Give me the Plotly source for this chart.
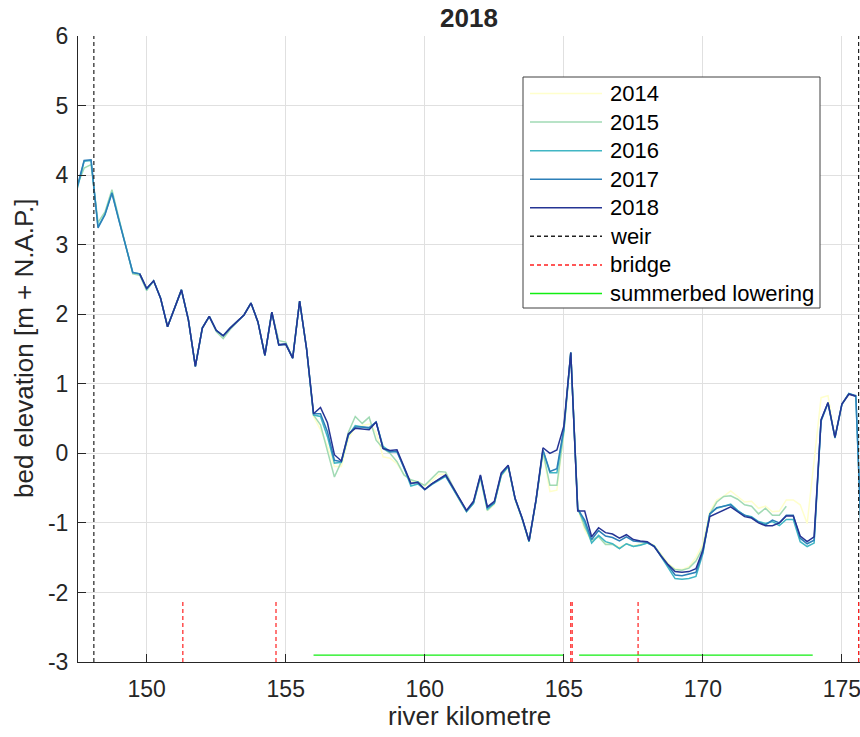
import plotly.graph_objects as go

# River stations every 0.25 km
km = [147.5 + 0.25 * i for i in range(114)]

# Bed elevation per survey year [m + N.A.P.]; None where not surveyed
bed_2014 = [None] * 9 + [
    2.58, 2.37, 2.48, 2.23, 1.82, 2.08, 2.35, 1.92, 1.25, 1.80, 1.97, 1.77, 1.69, 1.80, 1.89, 1.99,
    2.16, 1.89, 1.41, 2.03, 1.56, 1.57, 1.37, 2.19, 1.50,
    0.53, 0.34, 0.10, -0.19, -0.19, 0.20, 0.38, 0.40, 0.42, 0.30, -0.05, -0.07, -0.15, -0.30, -0.40, -0.40,
    -0.47, -0.40, -0.30, -0.30, -0.49, -0.68, -0.84, -0.72, -0.35, -0.82, -0.74, -0.33, -0.20, -0.67, -0.95, -1.27,
    -0.69, 0.00, -0.55, -0.53, 0.28, 1.45, -0.80, -1.10, -1.27, -1.20, -1.30, -1.30, -1.35, -1.30, -1.33, -1.31,
    -1.28, -1.32, -1.45, -1.58, -1.66, -1.67, -1.63, -1.50, -1.30, -0.84, -0.67, -0.62, -0.54, -0.62, -0.70, -0.69,
    -0.79, -0.76, -0.84, -0.83, -0.67, -0.67, -0.74, -1.01, -0.10, 0.80, 0.83, 0.23, 0.71, 0.85, 0.82, None]

bed_2015 = [
    3.85, 4.10, 4.15, 3.32, 3.47, 3.79, 3.38, 2.99, 2.58,
    2.56, 2.34, 2.48, 2.23, 1.82, 2.08, 2.35, 1.92, 1.25, 1.80, 1.97, 1.75, 1.65, 1.78, 1.89, 1.99,
    2.16, 1.89, 1.41, 2.03, 1.62, 1.60, 1.37, 2.19, 1.50,
    0.55, 0.41, 0.05, -0.34, -0.12, 0.30, 0.53, 0.43, 0.52, 0.19, 0.07, 0.00, -0.12, -0.31, -0.38, -0.41,
    -0.46, -0.36, -0.26, -0.27, -0.47, -0.66, -0.83, -0.72, -0.35, -0.82, -0.72, -0.32, -0.19, -0.66, -0.94, -1.27,
    -0.68, 0.02, -0.46, -0.46, 0.30, 1.45, -0.78, -1.06, -1.25, -1.20, -1.31, -1.31, -1.37, -1.30, -1.34, -1.32,
    -1.29, -1.33, -1.46, -1.60, -1.67, -1.68, -1.65, -1.55, -1.36, -0.87, -0.70, -0.62, -0.61, -0.66, -0.74, -0.76,
    -0.87, -0.79, -0.89, -0.89, -0.76, None, None, None, None, None, None, None, None, None, None, None]

bed_2016 = [
    3.80, 4.20, 4.21, 3.26, 3.44, 3.75, 3.36, 2.98, 2.60,
    2.58, 2.36, 2.48, 2.23, 1.82, 2.08, 2.35, 1.92, 1.25, 1.80, 1.97, 1.77, 1.69, 1.80, 1.89, 1.99,
    2.16, 1.89, 1.41, 2.03, 1.56, 1.57, 1.37, 2.19, 1.50,
    0.55, 0.53, 0.24, -0.14, -0.13, 0.26, 0.40, 0.38, 0.36, 0.45, 0.10, 0.03, 0.02, -0.20, -0.47, -0.44,
    -0.52, -0.45, -0.39, -0.33, -0.50, -0.68, -0.84, -0.72, -0.33, -0.80, -0.72, -0.31, -0.19, -0.66, -0.94, -1.27,
    -0.68, 0.04, -0.28, -0.28, 0.33, 1.45, -0.80, -1.00, -1.29, -1.18, -1.27, -1.30, -1.37, -1.30, -1.34, -1.32,
    -1.29, -1.33, -1.49, -1.64, -1.80, -1.81, -1.80, -1.77, -1.44, -0.87, -0.79, -0.76, -0.73, -0.82, -0.89, -0.91,
    -0.98, -1.01, -0.98, -1.04, -0.95, -0.95, -1.27, -1.34, -1.29, 0.46, 0.72, 0.22, 0.70, 0.86, 0.82, -1.75]

bed_2017 = [
    3.83, 4.21, 4.22, 3.24, 3.43, 3.74, 3.35, 2.97, 2.60,
    2.58, 2.37, 2.48, 2.23, 1.82, 2.08, 2.35, 1.92, 1.25, 1.80, 1.97, 1.77, 1.69, 1.80, 1.89, 1.99,
    2.16, 1.89, 1.41, 2.03, 1.56, 1.57, 1.37, 2.19, 1.50,
    0.57, 0.57, 0.31, -0.10, -0.12, 0.26, 0.38, 0.38, 0.37, 0.45, 0.07, 0.02, 0.03, -0.21, -0.44, -0.41,
    -0.52, -0.44, -0.38, -0.32, -0.49, -0.67, -0.83, -0.71, -0.32, -0.78, -0.71, -0.30, -0.18, -0.65, -0.93, -1.26,
    -0.67, 0.05, -0.26, -0.22, 0.35, 1.45, -0.80, -0.96, -1.24, -1.11, -1.19, -1.21, -1.26, -1.20, -1.26, -1.27,
    -1.28, -1.34, -1.48, -1.62, -1.75, -1.76, -1.73, -1.71, -1.42, -0.87, -0.78, -0.76, -0.74, -0.83, -0.89, -0.92,
    -0.99, -1.03, -0.96, -1.00, -0.89, -0.89, -1.22, -1.30, -1.25, 0.48, 0.73, 0.23, 0.71, 0.86, 0.83, -1.75]

bed_2018 = [None] * 9 + [
    2.58, 2.37, 2.48, 2.23, 1.82, 2.08, 2.35, 1.92, 1.25, 1.80, 1.97, 1.77, 1.69, 1.80, 1.89, 1.99,
    2.16, 1.89, 1.41, 2.03, 1.56, 1.57, 1.37, 2.19, 1.50,
    0.57, 0.66, 0.44, -0.02, -0.11, 0.28, 0.36, 0.35, 0.34, 0.45, 0.07, 0.04, 0.05, -0.19, -0.43, -0.42,
    -0.52, -0.44, -0.37, -0.31, -0.48, -0.66, -0.82, -0.69, -0.31, -0.77, -0.69, -0.28, -0.17, -0.65, -0.93, -1.26,
    -0.67, 0.08, 0.00, 0.05, 0.39, 1.45, -0.83, -0.83, -1.20, -1.07, -1.14, -1.16, -1.22, -1.17, -1.24, -1.26,
    -1.27, -1.34, -1.48, -1.60, -1.70, -1.71, -1.70, -1.66, -1.39, -0.91, -0.86, -0.82, -0.77, -0.84, -0.91, -0.93,
    -1.00, -1.04, -1.04, -1.00, -0.90, -0.90, -1.19, -1.27, -1.20, 0.48, 0.73, 0.23, 0.71, 0.85, 0.82, None]

years = ["2014", "2015", "2016", "2017", "2018"]
series = [bed_2014, bed_2015, bed_2016, bed_2017, bed_2018]
year_colors = ["#ffffcc", "#a1dab4", "#41b6c4", "#2c7fb8", "#253494"]

# Structures along the river (km)
weir_km = [148.1, 175.6]
bridge_km = [151.3, 154.65, 165.25, 165.3, 167.67, 175.6]
bridge_top = -2.1
summerbed_segments = [(156.0, 165.0), (165.55, 173.95)]
summerbed_level = -2.9

x_range = [147.53, 175.65]
y_range = [-3, 6]
x_ticks = [150, 155, 160, 165, 170, 175]
y_ticks = [-3, -2, -1, 0, 1, 2, 3, 4, 5, 6]
y_ticklabels = ["-3", "-2", "-1", "0", "1", "2", "3", "4", "5", "6"]

FONT = "Arial"
INK = "#262626"
WEIR_COLOR = "#222222"
BRIDGE_COLOR = "#ff2020"
SUMMERBED_COLOR = "#11ee11"
DASH = "4px,3px"

# Figure and plot-area geometry in pixels
W, H = 860, 737
M_L, M_R, M_T, M_B = 78, 0, 36, 75
PW, PH = W - M_L - M_R, H - M_T - M_B


def px_x(px):
    return (px - M_L) / PW


def px_y(py):
    return (H - M_B - py) / PH


fig = go.Figure()

for name, vals, col in zip(years, series, year_colors):
    fig.add_trace(go.Scatter(x=km, y=vals, mode="lines", name=name, showlegend=False,
                             line=dict(color=col, width=1.5), connectgaps=False))

wx, wy = [], []
for k in weir_km:
    wx += [k, k, None]
    wy += [y_range[0], y_range[1], None]
fig.add_trace(go.Scatter(x=wx, y=wy, mode="lines", name="weir", showlegend=False,
                         line=dict(color=WEIR_COLOR, width=1.2, dash=DASH)))

bx, by = [], []
for k in bridge_km:
    bx += [k, k, None]
    by += [y_range[0], bridge_top, None]
fig.add_trace(go.Scatter(x=bx, y=by, mode="lines", name="bridge", showlegend=False,
                         line=dict(color=BRIDGE_COLOR, width=1.2, dash=DASH)))

sx, sy = [], []
for a, b in summerbed_segments:
    sx += [a, b, None]
    sy += [summerbed_level, summerbed_level, None]
fig.add_trace(go.Scatter(x=sx, y=sy, mode="lines", name="summerbed lowering", showlegend=False,
                         line=dict(color=SUMMERBED_COLOR, width=1.2)))

# Legend box drawn as shapes + text
legend_items = [(y, c, None) for y, c in zip(years, year_colors)] + [
    ("weir", WEIR_COLOR, "dash"),
    ("bridge", BRIDGE_COLOR, "dash"),
    ("summerbed lowering", SUMMERBED_COLOR, None),
]
box_l, box_r, box_t, box_b = 523, 820, 77, 308
row0, row_step = 93.5, 28.57
line_l, line_r, text_l = 530, 602, 608

shapes = [dict(type="rect", xref="paper", yref="paper",
               x0=px_x(box_l), x1=px_x(box_r), y0=px_y(box_b), y1=px_y(box_t),
               line=dict(color="#404040", width=1), fillcolor="white", layer="above")]
annotations = []
for i, (label, col, dash) in enumerate(legend_items):
    yy = row0 + i * row_step
    shapes.append(dict(type="line", xref="paper", yref="paper",
                       x0=px_x(line_l), x1=px_x(line_r), y0=px_y(yy), y1=px_y(yy),
                       line=dict(color=col, width=1.5, dash=DASH if dash else "solid"),
                       layer="above"))
    annotations.append(dict(text=label, xref="paper", yref="paper",
                            x=px_x(text_l), y=px_y(yy), xanchor="left", yanchor="middle",
                            showarrow=False, font=dict(family=FONT, size=22, color="#000000")))

annotations += [
    dict(text="bed elevation [m + N.A.P.]", textangle=-90, xref="paper", yref="paper",
         x=px_x(24), y=0.5, xanchor="center", yanchor="middle", showarrow=False,
         font=dict(family=FONT, size=26, color=INK)),
    dict(text="river kilometre", xref="paper", yref="paper",
         x=0.5, y=px_y(716), xanchor="center", yanchor="middle", showarrow=False,
         font=dict(family=FONT, size=26, color=INK)),
]

axis_common = dict(
    showgrid=True, gridcolor="#e0e0e0", gridwidth=1, zeroline=False,
    showline=True, linecolor=INK, linewidth=1,
    ticks="inside", ticklen=8, tickcolor=INK, tickwidth=1,
    tickfont=dict(family=FONT, size=23, color=INK),
)

fig.update_layout(
    width=W, height=H,
    margin=dict(l=M_L, r=M_R, t=M_T, b=M_B),
    paper_bgcolor="white", plot_bgcolor="white",
    font=dict(family=FONT, color=INK),
    title=dict(text="2018", x=0.5, xref="paper", y=1 - 18 / H, yanchor="middle",
               font=dict(family=FONT, size=26, weight="bold", color=INK)),
    xaxis=dict(range=x_range, tickvals=x_ticks, ticklabelstandoff=6,
               ticklabeloverflow="allow", **axis_common),
    yaxis=dict(range=y_range, tickvals=y_ticks, ticktext=y_ticklabels, ticklabelstandoff=4,
               **axis_common),
    showlegend=False,
    shapes=shapes,
    annotations=annotations,
)

fig.write_html("out.html")
